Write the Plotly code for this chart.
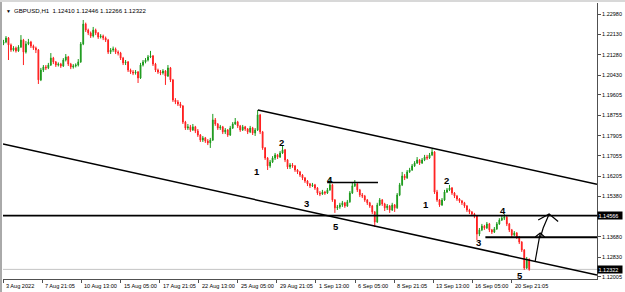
import plotly.graph_objects as go

# ---------------- data (GBPUSD, 4-hour bars) ----------------
first_open = 1.2175
close = [
1.2181,1.2198,1.2169,1.2148,1.2156,1.2144,1.2160,1.2189,1.2139,1.2173,
1.2181,1.2164,1.2156,1.2148,1.2023,1.2064,1.2077,1.2073,1.2085,1.2114,
1.2098,1.2085,1.2089,1.2081,1.2106,1.2119,1.2089,1.2077,1.2081,1.2085,
1.2098,1.2173,1.2256,1.2231,1.2219,1.2206,1.2231,1.2219,1.2202,1.2206,
1.2198,1.2189,1.2139,1.2148,1.2152,1.2139,1.2135,1.2114,1.2094,1.2098,
1.2064,1.2056,1.2052,1.2056,1.2031,1.2085,1.2098,1.2106,1.2119,1.2123,
1.2089,1.2064,1.2056,1.2052,1.2060,1.2039,1.2073,1.2023,1.1939,1.1931,
1.1922,1.1914,1.1847,1.1822,1.1827,1.1814,1.1827,1.1810,1.1793,1.1772,
1.1781,1.1768,1.1760,1.1772,1.1856,1.1839,1.1822,1.1827,1.1806,1.1814,
1.1793,1.1822,1.1839,1.1847,1.1831,1.1814,1.1827,1.1818,1.1806,1.1822,
1.1801,1.1814,1.1877,1.1806,1.1739,1.1697,1.1664,1.1680,1.1697,1.1710,
1.1701,1.1718,1.1731,1.1689,1.1660,1.1668,1.1664,1.1647,1.1639,1.1626,
1.1614,1.1601,1.1589,1.1581,1.1585,1.1572,1.1551,1.1547,1.1555,1.1551,
1.1564,1.1585,1.1522,1.1489,1.1493,1.1501,1.1510,1.1497,1.1514,1.1551,
1.1581,1.1589,1.1564,1.1543,1.1538,1.1522,1.1510,1.1497,1.1472,1.1430,
1.1501,1.1522,1.1505,1.1489,1.1497,1.1480,1.1501,1.1489,1.1543,1.1585,
1.1622,1.1614,1.1639,1.1647,1.1664,1.1676,1.1689,1.1676,1.1689,1.1701,
1.1697,1.1710,1.1722,1.1555,1.1522,1.1501,1.1522,1.1555,1.1564,1.1572,
1.1551,1.1538,1.1526,1.1518,1.1510,1.1497,1.1480,1.1472,1.1463,1.1455,
1.1380,1.1397,1.1413,1.1405,1.1422,1.1397,1.1388,1.1401,1.1422,1.1438,
1.1446,1.1450,1.1422,1.1397,1.1376,1.1384,1.1367,1.1346,1.1313,1.1238,
1.1276,1.12322]

high = [
1.2190,1.2206,1.2202,1.2175,1.2164,1.2162,1.2168,1.2210,1.2194,1.2185,
1.2194,1.2186,1.2170,1.2162,1.2152,1.2073,1.2085,1.2085,1.2094,1.2135,
1.2119,1.2102,1.2096,1.2094,1.2114,1.2131,1.2123,1.2094,1.2089,1.2092,
1.2110,1.2181,1.2273,1.2262,1.2237,1.2225,1.2244,1.2237,1.2223,1.2214,
1.2212,1.2204,1.2194,1.2156,1.2162,1.2158,1.2146,1.2140,1.2119,1.2106,
1.2102,1.2070,1.2064,1.2064,1.2060,1.2094,1.2106,1.2114,1.2127,1.2144,
1.2127,1.2094,1.2070,1.2064,1.2068,1.2064,1.2085,1.2077,1.2027,1.1947,
1.1939,1.1931,1.1918,1.1852,1.1839,1.1835,1.1839,1.1831,1.1818,1.1797,
1.1789,1.1785,1.1776,1.1781,1.1881,1.1864,1.1843,1.1835,1.1831,1.1822,
1.1818,1.1831,1.1847,1.1864,1.1852,1.1835,1.1835,1.1831,1.1822,1.1831,
1.1827,1.1822,1.1897,1.1881,1.1810,1.1743,1.1701,1.1689,1.1705,1.1718,
1.1714,1.1726,1.1747,1.1735,1.1693,1.1676,1.1676,1.1668,1.1651,1.1643,
1.1630,1.1618,1.1605,1.1593,1.1593,1.1589,1.1576,1.1559,1.1564,1.1560,
1.1572,1.1614,1.1589,1.1526,1.1501,1.1510,1.1518,1.1514,1.1522,1.1559,
1.1593,1.1605,1.1593,1.1568,1.1551,1.1543,1.1526,1.1514,1.1501,1.1476,
1.1510,1.1530,1.1526,1.1510,1.1505,1.1501,1.1510,1.1505,1.1551,1.1593,
1.1639,1.1630,1.1647,1.1656,1.1672,1.1684,1.1701,1.1693,1.1697,1.1710,
1.1710,1.1718,1.1735,1.1726,1.1564,1.1526,1.1530,1.1564,1.1572,1.1585,
1.1576,1.1555,1.1543,1.1530,1.1522,1.1514,1.1501,1.1485,1.1476,1.1468,
1.1459,1.1405,1.1422,1.1418,1.1430,1.1426,1.1401,1.1409,1.1430,1.1446,
1.1455,1.1463,1.1455,1.1426,1.1401,1.1392,1.1388,1.1371,1.1350,1.1317,
1.1284,1.12446]

low = [
1.2168,1.2176,1.2106,1.2140,1.2142,1.2137,1.2140,1.2156,1.2085,1.2133,
1.2168,1.2156,1.2148,1.2135,1.2006,1.2018,1.2056,1.2064,1.2068,1.2081,
1.2089,1.2077,1.2079,1.2073,1.2077,1.2100,1.2081,1.2068,1.2070,1.2075,
1.2079,1.2094,1.2168,1.2223,1.2210,1.2198,1.2200,1.2210,1.2194,1.2196,
1.2189,1.2181,1.2131,1.2131,1.2140,1.2131,1.2125,1.2106,1.2085,1.2085,
1.2056,1.2048,1.2043,1.2045,1.2010,1.2027,1.2079,1.2092,1.2100,1.2114,
1.2081,1.2056,1.2048,1.2043,1.2045,1.2002,1.2035,1.2014,1.1931,1.1922,
1.1914,1.1906,1.1839,1.1814,1.1814,1.1806,1.1810,1.1801,1.1785,1.1764,
1.1764,1.1760,1.1751,1.1739,1.1768,1.1831,1.1814,1.1814,1.1797,1.1797,
1.1785,1.1789,1.1818,1.1835,1.1822,1.1806,1.1810,1.1810,1.1797,1.1801,
1.1793,1.1789,1.1810,1.1797,1.1731,1.1689,1.1647,1.1656,1.1676,1.1689,
1.1693,1.1697,1.1714,1.1680,1.1651,1.1651,1.1656,1.1639,1.1630,1.1618,
1.1605,1.1593,1.1580,1.1572,1.1576,1.1564,1.1543,1.1538,1.1543,1.1543,
1.1547,1.1560,1.1514,1.1468,1.1480,1.1485,1.1493,1.1489,1.1493,1.1510,
1.1547,1.1576,1.1555,1.1534,1.1530,1.1514,1.1501,1.1489,1.1463,1.1409,
1.1426,1.1497,1.1497,1.1476,1.1480,1.1468,1.1476,1.1472,1.1485,1.1538,
1.1580,1.1605,1.1610,1.1635,1.1643,1.1660,1.1672,1.1668,1.1672,1.1684,
1.1689,1.1693,1.1705,1.1547,1.1514,1.1493,1.1497,1.1518,1.1551,1.1559,
1.1543,1.1530,1.1518,1.1510,1.1501,1.1489,1.1472,1.1463,1.1455,1.1446,
1.1355,1.1371,1.1392,1.1397,1.1401,1.1388,1.1380,1.1384,1.1397,1.1418,
1.1434,1.1438,1.1413,1.1388,1.1367,1.1371,1.1359,1.1338,1.1305,1.1230,
1.1234,1.12266]

# time axis labels (bar-number positions) and price axis labels
time_labels = ["3 Aug 2022", "7 Aug 21:05", "10 Aug 13:00", "15 Aug 05:00", "17 Aug 21:05",
               "22 Aug 13:00", "25 Aug 05:00", "29 Aug 21:05", "1 Sep 13:00", "6 Sep 05:00",
               "8 Sep 21:05", "13 Sep 13:00", "16 Sep 05:00", "20 Sep 21:05"]
time_label_bars = [-0.1, 15.6, 31.3, 47.0, 62.7, 78.4, 94.0, 109.7, 125.4, 141.1,
                   156.8, 172.5, 188.2, 203.9]
price_ticks = [1.22980, 1.22130, 1.21280, 1.20430, 1.19605, 1.18755, 1.17905, 1.17055,
               1.16205, 1.15380, 1.13680, 1.12830, 1.12005]

# drawing objects (bar number, price)
level_main = 1.14566
level_low = 1.1366
level_low_start = 193.4
level_w4 = 1.1595
level_w4_bars = [129.9, 150.3]
bid = 1.12322
chan_upper_bars = [102.1, 238.2]
chan_upper_prices = [1.18974, 1.15873]
chan_lower_bars = [-0.2, 238.2]
chan_lower_prices = [1.17555, 1.12084]
wave_text = ["1", "2", "3", "4", "5", "1", "2", "3", "4", "5"]
wave_bars = [101.9, 111.5, 121.5, 131.0, 133.3, 169.7, 177.7, 190.6, 200.3, 207.3]
wave_prices = [1.16428, 1.17609, 1.15080, 1.16094, 1.14104, 1.15039, 1.16011, 1.13453, 1.14771, 1.12068]
arrow1_bars = [213.4, 214.2, 215.4]
arrow1_prices = [1.12672, 1.13132, 1.13841]
arrow1_head_bars = [213.4, 215.4, 217.2]
arrow1_head_prices = [1.13674, 1.13841, 1.13674]
arrow2_bars = [215.4, 216.6, 219.0]
arrow2_prices = [1.13632, 1.14050, 1.14634]
arrow2_head_bars = [214.6, 219.0, 222.6]
arrow2_head_prices = [1.14383, 1.14634, 1.14321]

# ---------------- figure ----------------
bars = list(range(len(close)))
opens = [first_open] + close[:-1]

X0, X1 = -0.2, 238.2
Y0, Y1 = 1.11921, 1.23439
FONT = "Liberation Sans, Arial, sans-serif"

fig = go.Figure()
fig.add_trace(go.Candlestick(
    x=bars, open=opens, high=high, low=low, close=close,
    increasing=dict(line=dict(color="#1c9a1c", width=1), fillcolor="#1c9a1c"),
    decreasing=dict(line=dict(color="#ff1f1f", width=1), fillcolor="#ff1f1f"),
    whiskerwidth=0, showlegend=False, hoverinfo="skip"))

line_style = dict(color="black", width=1.2)
for xs, ys in [(arrow1_bars, arrow1_prices), (arrow1_head_bars, arrow1_head_prices),
               (arrow2_bars, arrow2_prices), (arrow2_head_bars, arrow2_head_prices)]:
    fig.add_trace(go.Scatter(x=xs, y=ys, mode="lines", line=line_style,
                             showlegend=False, hoverinfo="skip"))

shapes = [
    dict(type="line", xref="x", yref="y", x0=X0, x1=X1, y0=bid, y1=bid,
         line=dict(color="#c4c4c4", width=1), layer="below"),
    dict(type="line", xref="x", yref="y", x0=X0, x1=X1, y0=level_main, y1=level_main,
         line=dict(color="black", width=1.6)),
    dict(type="line", xref="x", yref="y", x0=level_low_start, x1=X1, y0=level_low, y1=level_low,
         line=dict(color="black", width=2)),
    dict(type="line", xref="x", yref="y", x0=level_w4_bars[0], x1=level_w4_bars[1],
         y0=level_w4, y1=level_w4, line=dict(color="black", width=1.6)),
    dict(type="line", xref="x", yref="y", x0=chan_upper_bars[0], x1=chan_upper_bars[1],
         y0=chan_upper_prices[0], y1=chan_upper_prices[1], line=dict(color="black", width=1.5)),
    dict(type="line", xref="x", yref="y", x0=chan_lower_bars[0], x1=chan_lower_bars[1],
         y0=chan_lower_prices[0], y1=chan_lower_prices[1], line=dict(color="black", width=1.5)),
    # window frame bits
    dict(type="rect", xref="paper", yref="paper", x0=-0.0050, x1=-0.0017,
         y0=-13/276, y1=1 + 3/276, line=dict(width=0), fillcolor="#a8a8a8"),
    dict(type="rect", xref="paper", yref="paper", x0=-0.01, x1=1.05,
         y0=1 + 1/276, y1=1 + 3/276, line=dict(width=0), fillcolor="#d8d8d8"),
]

annotations = []
for t, bx, py in zip(wave_text, wave_bars, wave_prices):
    annotations.append(dict(x=bx, y=py, xref="x", yref="y", text="<b>%s</b>" % t,
                            showarrow=False, font=dict(family=FONT, size=9.5, color="black"),
                            xanchor="center", yanchor="middle"))
for lab, bx in zip(time_labels, time_label_bars):
    annotations.append(dict(x=bx, y=0, xref="x", yref="paper", text=lab, showarrow=False,
                            xanchor="left", yanchor="top", xshift=1, yshift=-1.5,
                            font=dict(family=FONT, size=5.6, color="black")))
for val in [level_main, bid]:
    annotations.append(dict(x=1, y=val, xref="paper", yref="y", text="%.5f  " % val,
                            showarrow=False, xanchor="left", yanchor="middle", xshift=0,
                            bgcolor="black", borderpad=0.5,
                            font=dict(family=FONT, size=5.5, color="white")))
annotations.append(dict(x=(4.5 - 3) / 596, y=(279 - 10.7) / 276, xref="paper", yref="paper",
                        text="▼", showarrow=False, xanchor="left", yanchor="middle",
                        font=dict(family=FONT, size=5, color="black")))
annotations.append(dict(x=(11.7 - 3) / 596, y=(279 - 10.7) / 276, xref="paper", yref="paper",
                        text="GBPUSD,H1  1.12410 1.12446 1.12266 1.12322", showarrow=False,
                        xanchor="left", yanchor="middle",
                        font=dict(family=FONT, size=6.1, color="black")))

fig.update_layout(
    width=625, height=292,
    margin=dict(l=3, r=26, t=3, b=13, pad=0),
    paper_bgcolor="white", plot_bgcolor="white",
    shapes=shapes, annotations=annotations,
    showlegend=False, boxgap=0.55,
    xaxis=dict(range=[X0, X1], rangeslider=dict(visible=False), showgrid=False,
               zeroline=False, showline=True, linecolor="#505050", linewidth=1,
               tickmode="array", tickvals=time_label_bars, showticklabels=False,
               ticks="outside", ticklen=3, tickcolor="#505050", tickwidth=1),
    yaxis=dict(range=[Y0, Y1], side="right", showgrid=False, zeroline=False,
               showline=True, linecolor="#505050", linewidth=1,
               tickmode="array", tickvals=price_ticks,
               ticktext=["%.5f" % v for v in price_ticks],
               ticks="outside", ticklen=3, tickcolor="#505050", tickwidth=1,
               tickfont=dict(family=FONT, size=5.5, color="black")),
)

fig.write_html("out.html")
